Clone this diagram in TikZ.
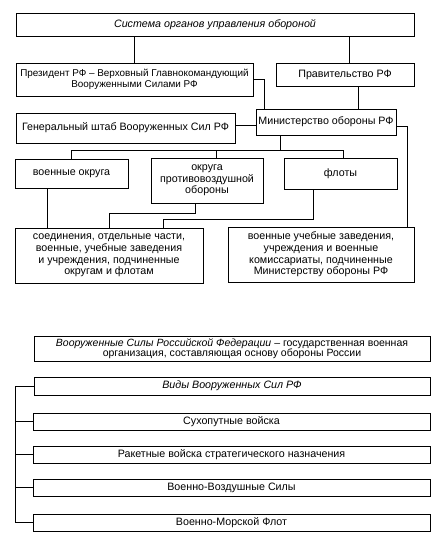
\documentclass[tikz,border=0pt]{standalone}
\usepackage{fontspec}
\setmainfont{Liberation Sans}
\usepackage{tikz}

\begin{document}
\begin{tikzpicture}[x=1pt, y=-1pt, line width=0.9pt,
    box/.style={draw, inner sep=0pt, align=center, font=\fontsize{10.7}{11.6}\selectfont}]

\useasboundingbox (0,0) rectangle (438,534);

%%%%%%%%%%%%%%%%%%%%%%%%%%%%%%%%%%%%%%%%%%%%%%%%%%%%%%%%%%%%%%%%
% System of defence management
%%%%%%%%%%%%%%%%%%%%%%%%%%%%%%%%%%%%%%%%%%%%%%%%%%%%%%%%%%%%%%%%

% Top levels
\node [box, minimum width=398pt, minimum height=23pt] (sys) at (215,24.5) {\itshape Система органов управления обороной};

\node [box, minimum width=237pt, minimum height=33pt, font=\fontsize{9.9}{11.6}\selectfont] (pres) at (134.5,79.5) {Президент РФ – Верховный Главнокомандующий\\Вооруженными Силами РФ};
\node [box, minimum width=138pt, minimum height=23pt] (gov) at (345,74.5) {Правительство РФ};

\node [box, minimum width=140pt, minimum height=26pt] (mod) at (326,122) {Министерство обороны РФ};
\node [box, minimum width=219pt, minimum height=30pt] (gs) at (125.5,128) {Генеральный штаб Вооруженных Сил РФ};

% Districts and fleets
\node [box, minimum width=113pt, minimum height=29pt] (vo) at (71.5,173.5) {военные округа};
\node [box, minimum width=112pt, minimum height=45pt] (pvo) at (207,180.5) {округа\\противовоздушной\\обороны};
\node [box, minimum width=113pt, minimum height=31pt] (fl) at (340.5,173.5) {флоты};

% Subordinate units
\node [box, minimum width=188pt, minimum height=55pt] (sub) at (109,255.5) {соединения, отдельные части,\\военные, учебные заведения\\и учреждения, подчиненные\\округам и флотам};
\node [box, minimum width=186pt, minimum height=55pt] (inst) at (321,254.5) {военные учебные заведения,\\учреждения и военные\\комиссариаты, подчиненные\\Министерству обороны РФ};

% Edges
\draw (sys.south -| pres.north) -- (pres.north);
\draw ([xshift=4pt]sys.south -| gov.north) -- ([xshift=4pt]gov.north);
\draw (pres.east) -| ([xshift=9pt]mod.north west);
\draw ([xshift=13pt]gov.south) -- ([xshift=13pt]gov.south |- mod.north);
\draw ([yshift=3pt]gs.east) -- ([yshift=3pt]gs.east -| mod.west);
\draw ([yshift=-4pt]mod.east) -| ([xshift=-7pt]inst.north east);

\coordinate (bus) at (280,150);
\draw ([xshift=-46pt]mod.south) -- (bus);
\draw (vo.north) |- ([xshift=2.5pt]fl.north |- bus) -- ([xshift=2.5pt]fl.north);
\draw ([xshift=9pt]pvo.north) -- ([xshift=9pt]pvo.north |- bus);

\draw ([xshift=-24.5pt]vo.south) -- ([xshift=-24.5pt]vo.south |- sub.north);
\draw ([xshift=-12pt]pvo.south) -- ++(0,10) -| (sub.north);
\draw ([xshift=-27.5pt]fl.south) -- ++(0,30) -| ([xshift=54pt]sub.north);

%%%%%%%%%%%%%%%%%%%%%%%%%%%%%%%%%%%%%%%%%%%%%%%%%%%%%%%%%%%%%%%%
% Armed forces
%%%%%%%%%%%%%%%%%%%%%%%%%%%%%%%%%%%%%%%%%%%%%%%%%%%%%%%%%%%%%%%%

\node [box, minimum width=396pt, minimum height=25pt, font=\fontsize{10.5}{10.5}\selectfont] (vs) at (232,348.5) {\textit{Вооруженные Силы Российской Федерации} – государственная военная\\организация, составляющая основу обороны России};

% Branches
\node [box, minimum width=396pt, minimum height=18pt] (vid) at (232,386) {\itshape Виды Вооруженных Сил РФ};
\node [box, minimum width=397pt, minimum height=17pt] (sv) at (231.5,421.5) {Сухопутные войска};
\node [box, minimum width=397pt, minimum height=17pt] (rv) at (231.5,454.5) {Ракетные войска стратегического назначения};
\node [box, minimum width=397pt, minimum height=17pt] (vvs) at (231.5,487.5) {Военно-Воздушные Силы};
\node [box, minimum width=397pt, minimum height=17pt] (vmf) at (231.5,522.5) {Военно-Морской Флот};

% Rail
\coordinate (rail) at (15,386);
\draw (vid.west) -- (rail) |- (vmf.west);
\foreach \n in {sv,rv,vvs}
    \draw (\n.west) -- (\n.west -| rail);

\end{tikzpicture}
\end{document}
